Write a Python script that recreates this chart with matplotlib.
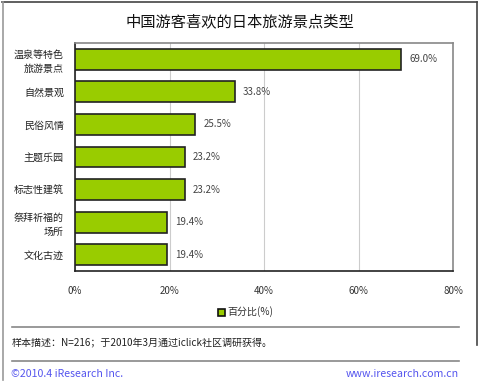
import matplotlib
matplotlib.use("Agg")
import matplotlib.pyplot as plt
from matplotlib.lines import Line2D
from matplotlib.patches import Rectangle

plt.rcParams['font.family'] = ['Noto Sans CJK SC', 'DejaVu Sans']

categories = ["温泉等特色\n旅游景点", "自然景观", "民俗风情", "主题乐园", "标志性建筑", "祭拜祈福的\n场所", "文化古迹"]
values = [69.0, 33.8, 25.5, 23.2, 23.2, 19.4, 19.4]
xticks = [0, 20, 40, 60, 80]
xticklabels = ["0%", "20%", "40%", "60%", "80%"]
title = "中国游客喜欢的日本旅游景点类型"
legend_label = "百分比(%)"
note = "样本描述：N=216；于2010年3月通过iclick社区调研获得。"
copyright_text = "©2010.4 iResearch Inc."
url = "www.iresearch.com.cn"

W, H = 480, 392
fig = plt.figure(figsize=(W / 100, H / 100), dpi=100)
fig.patch.set_facecolor("white")

def fx(px):
    return px / W

def fy(py):
    return 1 - py / H

ax_l, ax_r, ax_t, ax_b = 75, 453, 43, 271
ax = fig.add_axes([fx(ax_l), fy(ax_b), fx(ax_r - ax_l), (ax_b - ax_t) / H])

green = "#99CC00"
ypos = list(range(len(categories)))
ax.barh(ypos, values, height=0.64, color=green, edgecolor="#222222", linewidth=1.2, zorder=3)
ax.set_ylim(len(categories) - 0.5, -0.5)
ax.set_xlim(0, 80)
ax.set_xticks(xticks)
ax.set_xticklabels(xticklabels, fontsize=7, color="#333333")
ax.tick_params(axis="x", length=0, pad=11)
ax.set_yticks(ypos)
ax.set_yticklabels(categories, fontsize=7.2, color="#222222", linespacing=1.45)
ax.tick_params(axis="y", length=0, pad=8)
ax.xaxis.grid(True, color="#CCCCCC", linewidth=0.8, zorder=0)
ax.set_axisbelow(True)
for s in ["top", "right"]:
    ax.spines[s].set_color("#888888")
    ax.spines[s].set_linewidth(1.2)
for s in ["left", "bottom"]:
    ax.spines[s].set_color("#222222")
    ax.spines[s].set_linewidth(1.2)

for y, v in zip(ypos, values):
    ax.annotate(f"{v:.1f}%", xy=(v, y), xytext=(6, 0), textcoords="offset points",
                va="center", ha="left", fontsize=7, color="#444444")

fig.text(0.5, fy(22), title, ha="center", va="center", fontsize=11, color="#111111")

# legend
fig.patches.append(Rectangle((fx(218), fy(316)), 7 / W, 7 / H, transform=fig.transFigure,
                             facecolor=green, edgecolor="#111111", linewidth=1.2))
fig.text(fx(227), fy(312), legend_label, ha="left", va="center", fontsize=7.2, color="#333333")

# separator lines
for yy in [327, 361]:
    fig.add_artist(Line2D([fx(12), fx(459)], [fy(yy), fy(yy)], color="#888888", linewidth=1.2,
                          transform=fig.transFigure))

fig.text(fx(12), fy(342), note, ha="left", va="center", fontsize=7.2, color="#222222")
fig.text(fx(11), fy(374), copyright_text, ha="left", va="center", fontsize=7.6, color="#5555EE")
fig.text(fx(459), fy(374), url, ha="right", va="center", fontsize=7.6, color="#5555EE")

# outer frame
fig.add_artist(Line2D([fx(2), fx(477)], [fy(1.5), fy(1.5)], color="#444444", linewidth=1.2, transform=fig.transFigure))
fig.add_artist(Line2D([fx(2.5), fx(2.5)], [fy(1.5), fy(380)], color="#999999", linewidth=1.2, transform=fig.transFigure))
fig.add_artist(Line2D([fx(477), fx(477)], [fy(1.5), fy(345)], color="#444444", linewidth=1.2, transform=fig.transFigure))

fig.savefig("out.png", dpi=100, facecolor="white")
